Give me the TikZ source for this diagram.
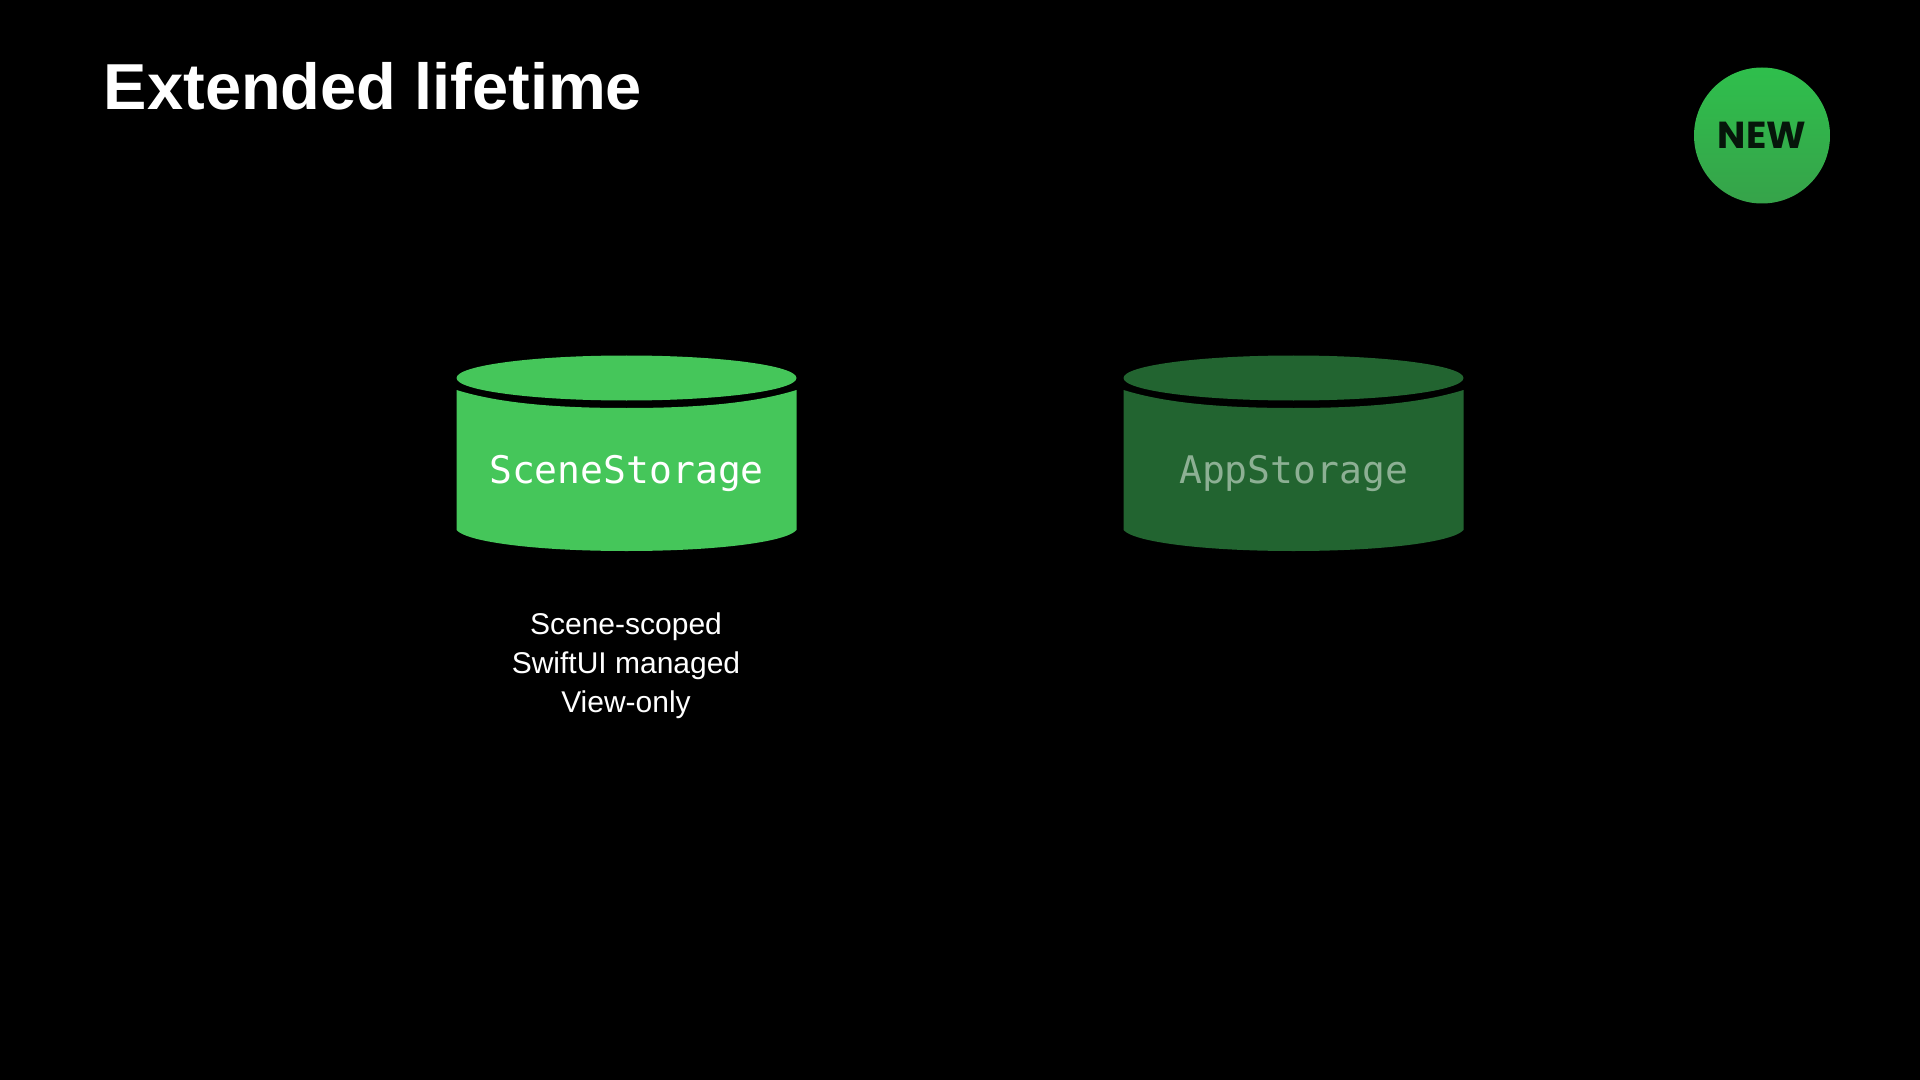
\documentclass[tikz,border=0pt]{standalone}
\usepackage{fontspec}
\setmainfont{Liberation Sans}
\newfontfamily\monof{DejaVu Sans Mono}
\newfontfamily\badgef{Poppins}
\definecolor{bright}{HTML}{45C65A}
\definecolor{dim}{HTML}{226430}
\definecolor{dimtext}{HTML}{8DB094}
\definecolor{badgetop}{RGB}{47,191,76}
\definecolor{badgebot}{RGB}{54,163,74}
\definecolor{badgetext}{RGB}{6,22,10}
\tikzset{
  lbl/.style={inner sep=0pt, text=white},
  cyl/.pic={
    \fill[pic actions] (-170,390) .. controls (-125,404) and (-65,408) .. (0,408)
      .. controls (65,408) and (125,404) .. (170,390) -- (170,530)
      .. controls (160,542) and (90,551) .. (0,551)
      .. controls (-90,551) and (-160,542) .. (-170,530) -- cycle;
    \fill[pic actions] (0,378) ellipse [x radius=170, y radius=22.5];
  }
}
\begin{document}
\begin{tikzpicture}[x=0.5pt,y=-0.5pt]
\useasboundingbox[fill=black] (0,0) rectangle (1920,1080);
\node[lbl,anchor=base west] (title) at (103.5,110) {\fontsize{32.5pt}{32.5pt}\selectfont\bfseries Extended lifetime};
\shade[top color=badgetop, bottom color=badgebot] (1762,135.5) circle [radius=68];
\node[inner sep=0pt,anchor=base,text=badgetext] (new) at (1762,149) {\fontsize{18.8pt}{18.8pt}\selectfont\badgef\bfseries NEW};
\pic[fill=bright] at (626.5,0) {cyl};
\pic[fill=dim] at (1293.5,0) {cyl};
\node[lbl,anchor=base] (scene) at (626.5,483) {\fontsize{19pt}{19pt}\selectfont\monof SceneStorage};
\node[lbl,anchor=base,text=dimtext] (app) at (1293.5,483) {\fontsize{19pt}{19pt}\selectfont\monof AppStorage};
\node[lbl,anchor=base] (l1) at (626,634) {\fontsize{15pt}{15pt}\selectfont Scene-scoped};
\node[lbl,anchor=base] (l2) at (626,673) {\fontsize{15pt}{15pt}\selectfont SwiftUI managed};
\node[lbl,anchor=base] (l3) at (626,712) {\fontsize{15pt}{15pt}\selectfont View-only};
\end{tikzpicture}
\end{document}
